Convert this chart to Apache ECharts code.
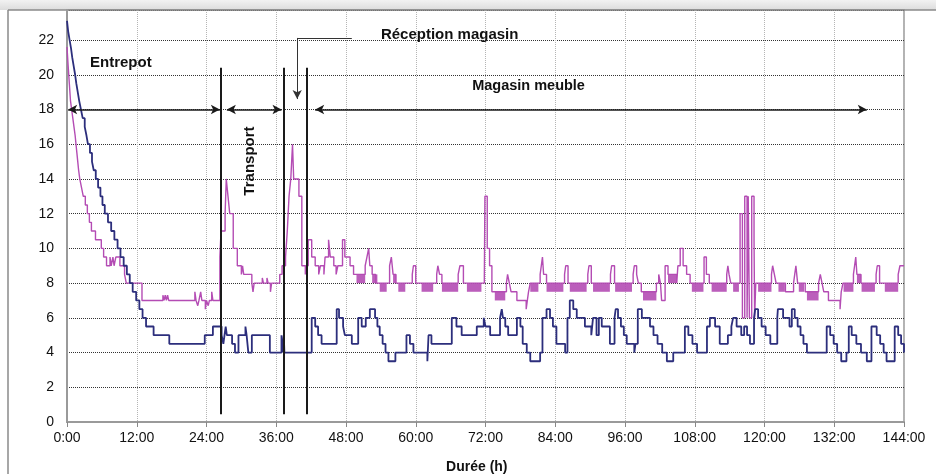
<!DOCTYPE html>
<html><head><meta charset="utf-8">
<script src="https://cdn.jsdelivr.net/npm/echarts@6/dist/echarts.min.js"></script>
<style>html,body{margin:0;padding:0;background:#fff}#c{width:936px;height:474px}</style>
</head><body><div id="c"></div>
<script>
// ---- data (hours, temperature °C) ----
const xTickHours = [0, 12, 24, 36, 48, 60, 72, 84, 96, 108, 120, 132, 144];
const yTickValues = [0, 2, 4, 6, 8, 10, 12, 14, 16, 18, 20, 22];

const blueSeries = [
[0,23.1],[0.2,22.5],[0.45,22],[0.7,21.5],[0.9,21],[1.15,20.5],[1.4,20],[1.6,19.5],[1.85,19],[2.1,18.5],[2.4,18],[2.7,17.5],[3.05,17],[3.35,16.5],[3.6,16],[3.95,15.5],[4.3,15],[4.6,14.5],[4.95,14],[5.35,13.5],[5.75,13],[6.1,12.5],[6.5,12],[7.05,11.5],[7.6,11],[8.15,10.5],[8.7,10],[9.2,9.5],[9.75,9],[10.3,8.5],[10.8,8],[11.3,7.5],[11.9,7],[12.45,6.5],[13.0,6],[13.6,5.5],[14.9,5],[17.6,4.5],[23.7,5],[25.1,5.5],
[26.6,5],[26.9,4.5],[27.1,5],[27.3,5.5],[27.5,5],[28.4,4.5],[28.9,4],[29.5,5],[30.7,5.5],[30.9,5],[31.2,4],[31.8,5],[34.9,4],[36.9,5],[37.1,4],[37.3,5],[37.4,4],
[42.1,6],[42.7,5.5],[43.2,5],[43.8,4.5],[46.4,6.5],[46.8,6],[47.5,5.5],[47.8,5],[49.0,4.5],[50.1,6],[50.7,5.5],[51.4,6],[52.1,6.5],[53.0,6],[53.4,5.5],[53.8,5],[54.3,4.5],[54.8,4],[55.3,3.5],[56.5,4],[58.4,5],[59.0,4.5],[59.6,4],[62.0,3.5],[62.2,5],[62.7,4.5],
[66.2,6],[67.0,5.5],[67.9,5],[70.5,5.5],[71.7,6],[72.0,5.5],[72.8,5],[74.5,6],[74.8,6.5],[75.0,6],[75.4,5.5],[75.9,5],[77.4,6],[78.0,5.5],[78.4,4.5],[79.1,4],[79.7,3.5],[81.4,4],[81.8,6],[82.5,6.5],[83.1,6],[83.6,5.5],[84.2,4.5],[85.7,4],[86.1,6],[86.5,7],[87.1,6.5],[87.7,6],[89.1,5.5],[90.2,5],[90.5,6],[91.1,5],[91.5,6],[92.0,5.5],[93.4,4.5],
[94.2,6],[94.4,6.5],[94.8,6],[95.3,5.5],[95.8,5],[96.3,4.5],[97.6,4],[97.8,4.5],[98.2,6.5],[98.9,6],[100.3,5.5],[100.9,5],[101.6,4.5],[102.4,4],[103.2,3.5],[104.3,4],[106.3,5.5],[106.9,5],[107.6,4.5],[108.4,4],[110.1,5.5],[110.6,6],[111.5,5.5],[112.3,4.5],[113.7,5],[114.3,5.5],[114.6,6],[115.2,5.5],[116.0,5],[116.5,5.5],[117.0,5],[117.5,4.5],[118.2,6],[118.4,6.5],[118.9,6],[119.5,5.5],[120.2,5],[121.0,4.5],[122.2,6],[122.3,6.5],[123.2,6],[124.3,5.5],[124.7,6.5],[125.2,6],[125.7,5.5],[126.2,5],[126.7,4.5],[127.3,4],[130.7,5.5],[131.3,5],[131.9,4.5],[132.5,4],[133.2,3.5],[134.1,4],[134.5,5.5],[135.0,5],[135.8,4.5],[136.6,4],[137.6,3.5],[138.4,5.5],[139.3,5],[139.9,4.5],[140.5,4],[141.0,3.5],[142.4,5.5],[143.0,5],[143.5,4.5],[144,4]
];

const magentaSeries = [
[0,21.6],[0.2,20.5],[0.4,19.5],[0.6,18.5],[0.8,18],[1.0,17.5],[1.2,17],[1.4,16.5],[1.55,16],[1.7,15.5],[1.85,15],[2.0,14.5],[2.2,14],[2.5,13.5],[2.8,13],[3.15,12.5],[3.5,12],[3.85,11.5],[4.2,11],[4.9,10.5],[5.9,10],[6.3,9.5],[6.8,9],[7.4,9.5],[7.6,9],[7.9,9.5],[8.1,9],[8.4,9.5],[9.1,9],[9.9,8.5],[10.2,8],[12.9,7],
[16.5,7.3],[16.7,7],[16.9,7.3],[17.1,7],[17.3,7.3],[17.5,7],[22.0,7.5],[22.2,7],[22.5,6.7],[22.7,7],[23.0,7.5],[23.2,7],[23.8,6.5],[24.0,7],[24.3,6.7],[24.5,7],[24.9,7.5],[25.1,7],
[26.3,9.5],[26.5,11],[27.2,12],[27.4,14],[27.7,13],[28.0,12],[28.6,10],[29.3,9],[30.0,8.5],[30.2,9],[30.4,8.5],[31.8,8],[32.0,7.5],[32.2,8],[33.6,8.3],[33.8,8],[34.4,8.3],[34.6,8],[35.0,7.5],[35.2,8],[36.6,8.5],[37.0,9],[37.6,9.5],[37.9,11],[38.2,13],[38.5,14],[38.8,16],[39.0,14],[39.9,13],[40.4,9],[41.0,8.5],[41.1,9],
[41.5,10.5],[42.1,9.5],[42.7,9],[43.3,8.5],[43.6,9],[44.2,8.5],[44.4,9.5],[45.0,10.5],[45.3,9.5],[45.9,9],[46.3,8.5],[46.6,9],[47.4,10.5],[47.8,9.5],[48.7,9],[49.3,8.5],[49.8,8.5],
[51.3,9],[51.6,9.5],[51.9,10],[52.1,9],[52.5,8.5],[53.1,8],[55.5,9],[55.8,9.5],[56.1,8.5],[56.6,8],[59.4,8.5],[59.6,9],[60.0,8],[63.6,8.5],[63.8,9],[64.1,8.5],[64.5,8],
[67.3,8.5],[67.6,9],[68.2,8],[71.8,8.3],[71.9,13],[72.3,10],[72.7,9],[73.1,7.5],[75.6,8],[75.8,8.5],[76.1,8],[76.4,7.5],[77.4,7],[79.0,6.5],[79.2,7],[79.4,7.5],[79.7,8],
[81.4,8.5],[81.6,9],[81.8,9.5],[82.0,8.5],[82.5,8],[85.6,8.5],[85.8,9],[86.2,8],[89.6,8.5],[89.8,9],[90.2,8],[93.5,8.5],[93.7,9],[94.2,8],
[97.4,8.5],[97.6,9],[98.0,8.5],[98.3,8],[98.8,7.5],[101.4,8],[101.8,8.5],[102.1,8],[102.3,7],[102.9,9],[103.4,8.5],[104.9,8],[105.1,9],[105.5,10],[106.0,9],[106.6,8.5],[107.2,8],[109.6,9.5],[110.0,8.5],[110.5,8],[113.5,8.5],[113.7,9],[113.9,8.5],[114.2,8],
[115.8,12],[116.2,6],[116.6,13],[117.0,6],[117.2,13],[117.4,6],[117.8,13],[118.2,10.5],[118.3,6],[118.5,8],
[121.2,8.5],[121.4,9],[121.7,8.5],[122.0,8],[123.6,7.5],[125.0,8],[125.2,8.5],[125.4,9],[125.7,8],[127.0,7.5],[129.3,8],[129.6,8.5],[129.9,8],[130.2,7.5],[131.0,7],[133.0,6.5],[133.2,7.5],[133.5,8],
[135.3,8.5],[135.5,9],[135.7,9.5],[135.9,8.5],[136.6,8],[139.2,8.5],[139.4,9],[139.8,8],[143.0,8.5],[143.3,9],[144,9]
];

// dense toggling bands of the magenta sensor: [start h, end h, low, high]
const magentaBlocks = [
[49.8,51.3,8,8.5],[52.5,53.4,8,8.5],[53.8,55.0,7.5,8],[56.1,56.6,8,8.5],[57.0,58.2,7.5,8],[61.0,63.0,7.5,8],[64.5,67.3,7.5,8],[68.8,71.3,7.5,8],
[73.6,75.4,7,7.5],[79.7,81.1,7.5,8],[82.5,85.4,7.5,8],[86.5,89.4,7.5,8],[90.5,93.4,7.5,8],[94.3,97.2,7.5,8],[99.1,101.4,7,7.5],[103.4,104.9,8,8.5],
[107.5,109.5,7.5,8],[110.9,113.5,7.5,8],[114.6,115.6,7.5,8],[118.9,121.2,7.5,8],[122.4,123.5,7.5,8],[125.9,126.8,7.5,8],[127.3,129.3,7,7.5],
[133.6,135.3,7.5,8],[135.9,136.6,8,8.5],[136.7,139.0,7.5,8],[140.7,143.0,7.5,8]
];

// phase boundaries (h) and labels
const phaseLines = [26.5, 37.3, 41.3];
const phaseArrows = [[0.2, 26.3], [27.5, 36.9], [42.7, 137.6]];
const phaseLabels = [
  {text: 'Entrepot', h: 3.96, v: 20.68, rot: 0, size: 15},
  {text: 'Transport', h: 31.5, v: 15.03, rot: 90, size: 15},
  {text: 'Réception magasin', h: 54.0, v: 22.29, rot: 0, size: 15},
  {text: 'Magasin meuble', h: 69.7, v: 19.35, rot: 0, size: 14.5}
];

const FONT = '"Liberation Sans", Arial, sans-serif';
const chart = echarts.init(document.getElementById('c'), null, {renderer: 'canvas'});

const markLineData = [];
phaseLines.forEach(h => markLineData.push([
  {coord: [h, 20.4], symbol: 'none', lineStyle: {color: '#1a1a1a', width: 2, type: 'solid'}},
  {coord: [h, 0.45], symbol: 'none'}
]));
phaseArrows.forEach(a => markLineData.push([
  {coord: [a[0], 18], symbol: 'arrow', symbolSize: [7, 9], lineStyle: {color: '#1a1a1a', width: 1.5, type: 'solid'}},
  {coord: [a[1], 18], symbol: 'arrow', symbolSize: [7, 9]}
]));
markLineData.push([
  {coord: [49.0, 22.12], symbol: 'none', lineStyle: {color: '#333', width: 1, type: 'solid'}},
  {coord: [39.6, 22.12], symbol: 'none'}
]);
markLineData.push([
  {coord: [39.6, 22.12], symbol: 'none', lineStyle: {color: '#333', width: 1, type: 'solid'}},
  {coord: [39.6, 18.6], symbol: 'arrow', symbolSize: [7, 9]}
]);

const option = {
  animation: false,
  backgroundColor: '#fff',
  grid: {left: 67, right: 32, top: 10, bottom: 52, show: true, borderColor: '#9a9a9a', borderWidth: 1.5, containLabel: false},
  xAxis: {
    type: 'value', min: 0, max: 144, interval: 12,
    axisLine: {show: true, lineStyle: {color: '#9a9a9a', width: 2}},
    axisTick: {show: true, length: 5, lineStyle: {color: '#888'}},
    axisLabel: {color: '#111', fontSize: 14, fontFamily: FONT, margin: 9,
      formatter: v => xTickHours.includes(v) ? v + ':00' : ''},
    splitLine: {show: true, lineStyle: {color: '#b5b5b5', type: 'dotted', width: 1}}
  },
  yAxis: {
    type: 'value', min: 0, max: 23.73, interval: 2,
    axisLine: {show: true, lineStyle: {color: '#9a9a9a', width: 2}},
    axisTick: {show: false},
    axisLabel: {color: '#111', fontSize: 14, fontFamily: FONT, margin: 13,
      formatter: v => yTickValues.includes(v) ? String(v) : ''},
    splitLine: {show: true, lineStyle: {color: '#333', type: 'dotted', width: 1}}
  },
  series: [
    {
      name: 'bleu', type: 'line', step: 'end', data: blueSeries, showSymbol: false, z: 3,
      lineStyle: {color: '#2c2e7c', width: 1.8}, itemStyle: {color: '#2c2e7c'},
      markLine: {silent: true, animation: false, label: {show: false}, symbol: 'none', data: markLineData, z: 5}
    },
    {
      name: 'magenta', type: 'line', step: 'end', data: magentaSeries, showSymbol: false, z: 2,
      lineStyle: {color: '#b44cb4', width: 1.4}, itemStyle: {color: '#b44cb4'},
      markArea: {silent: true, itemStyle: {color: 'rgba(180,76,180,0.9)'},
        data: magentaBlocks.map(b => [{coord: [b[0], b[2]]}, {coord: [b[1], b[3]]}])}
    }
  ]
};
chart.setOption(option);

const graphics = [
  {type: 'rect', shape: {x: 0, y: 0, width: 936, height: 10}, style: {fill: new echarts.graphic.LinearGradient(0,0,0,1,[{offset:0,color:'#f2f2f2'},{offset:1,color:'#dcdcdc'}])}, silent: true, z: -1},
  {type: 'line', shape: {x1: 8, y1: 10, x2: 936, y2: 10}, style: {stroke: '#8a8a8a', lineWidth: 1.5}, silent: true},
  {type: 'line', shape: {x1: 8, y1: 10, x2: 8, y2: 474}, style: {stroke: '#8a8a8a', lineWidth: 1.5}, silent: true}
];
phaseLabels.forEach(l => {
  const p = chart.convertToPixel({gridIndex: 0}, [l.h, l.v]);
  graphics.push({
    type: 'text', x: p[0], y: p[1], rotation: l.rot * Math.PI / 180,
    style: {text: l.text, fill: '#111', font: 'bold ' + l.size + 'px ' + FONT,
      textAlign: l.rot ? 'center' : 'left', textVerticalAlign: 'middle'},
    silent: true, z: 10
  });
});
const xt = chart.convertToPixel({gridIndex: 0}, [70.5, 0]);
graphics.push({type: 'text', x: xt[0], y: 467, style: {text: 'Durée (h)', fill: '#111', font: 'bold 14px ' + FONT, textAlign: 'center', textVerticalAlign: 'middle'}, silent: true, z: 10});
chart.setOption({graphic: graphics});
</script></body></html>
